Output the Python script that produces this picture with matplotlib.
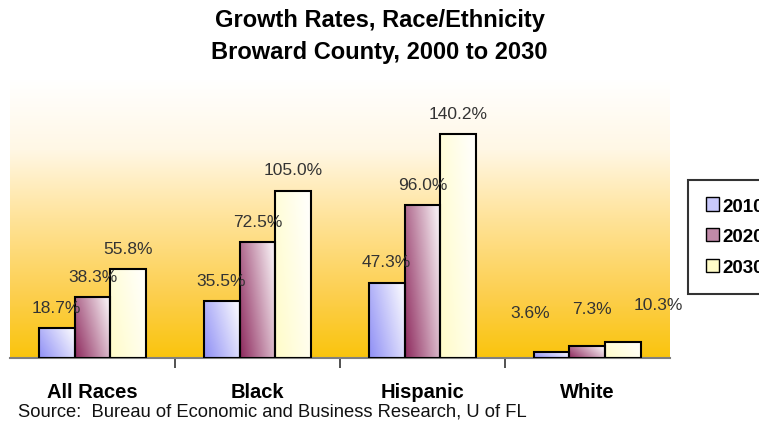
import matplotlib.pyplot as plt
import numpy as np
from matplotlib.colors import LinearSegmentedColormap, to_rgb
from matplotlib.patches import Patch

plt.rcParams['font.family'] = ['Liberation Sans', 'DejaVu Sans']

groups = ['All Races', 'Black', 'Hispanic', 'White']
years = ['2010', '2020', '2030']
rates = {
    '2010': [18.7, 35.5, 47.3, 3.6],
    '2020': [38.3, 72.5, 96.0, 7.3],
    '2030': [55.8, 105.0, 140.2, 10.3],
}
# extra lift for the value labels in each group
label_lift = [13, 13, 13, 23.5]
# White labels are nudged sideways so they don't collide
label_shift = {'2010': [0, 0, 0, -0.13], '2020': [0, 0, 0, 0.03], '2030': [0, 0, 0, 0.21]}
label_lift_w = {'2010': 1.7, '2020': 0, '2030': 0}

base_colors = {'2010': '#8f8ff5', '2020': '#8e2a5e', '2030': '#fffcc8'}

fig = plt.figure(figsize=(7.59, 4.27), dpi=100)
ax = fig.add_axes([0.0132, 0.1593, 0.8695, 0.6533])
ax.set_xlim(-0.5, 3.5)
ax.set_ylim(0, 175)

# white-to-gold backdrop
bg = LinearSegmentedColormap.from_list('bg', [
    (0.0, (0.98, 0.77, 0.05)),
    (0.22, (0.99, 0.81, 0.30)),
    (0.5, (1.0, 0.89, 0.60)),
    (0.75, (1.0, 0.97, 0.9)),
    (1.0, (1.0, 1.0, 1.0)),
])
grad = np.linspace(0, 1, 256).reshape(-1, 1)
ax.imshow(grad, cmap=bg, origin='lower', aspect='auto',
          extent=(-0.5, 3.5, 0, 175), zorder=0)

width = 0.218
x = np.arange(len(groups))
offsets = [-width, 0, width]

for yr, off in zip(years, offsets):
    vals = rates[yr]
    c = np.array(to_rgb(base_colors[yr]))
    gx, gy = np.meshgrid(np.linspace(0, 1, 40), np.linspace(0, 1, 80))
    t = np.clip(0.75 * gx + 0.35 * (1 - gy), 0, 1) * 0.9
    img = c[None, None, :] * (1 - t[..., None]) + t[..., None]
    for xi, v in zip(x, vals):
        x0 = xi + off - width / 2
        ax.imshow(img, origin='upper', aspect='auto',
                  extent=(x0, x0 + width, 0, v), zorder=2)
    ax.bar(x + off, vals, width, facecolor='none', edgecolor='black',
           linewidth=1.5, zorder=3)
    for i, (xi, v, lift) in enumerate(zip(x, vals, label_lift)):
        if i == 3:
            lift += label_lift_w[yr]
        ax.text(xi + off + label_shift[yr][i], v + lift, f'{v:.1f}%',
                ha='center', va='center', fontsize=12.5, color='#333333',
                zorder=4, clip_on=False)

ax.set_xlim(-0.5, 3.5)
ax.set_ylim(0, 175)

for s in ['top', 'right', 'left']:
    ax.spines[s].set_visible(False)
ax.spines['bottom'].set_color('#7f7f7f')
ax.spines['bottom'].set_linewidth(1.5)
ax.set_yticks([])
ax.set_xticks(x, groups, fontsize=14.5, fontweight='bold')
ax.tick_params(axis='x', which='major', length=0, pad=17)
ax.set_xticks([0.5, 1.5, 2.5], minor=True)
ax.tick_params(axis='x', which='minor', length=7, width=1.2, color='#333333')

fig.text(0.5, 0.951, 'Growth Rates, Race/Ethnicity', ha='center', va='center',
         fontsize=17, fontweight='bold')
fig.text(0.5, 0.876, 'Broward County, 2000 to 2030', ha='center', va='center',
         fontsize=17, fontweight='bold')
fig.text(0.024, 0.035, 'Source:  Bureau of Economic and Business Research, U of FL',
         ha='left', va='center', fontsize=13.2, color='#111111')

handles = [Patch(facecolor=fc, edgecolor='black', linewidth=1)
           for fc in ['#c8c8fa', '#c08aa8', '#fffcc8']]
leg = fig.legend(handles, years, loc='upper left', bbox_to_anchor=(0.9065, 0.577),
                 prop={'size': 13.5, 'weight': 'bold'}, frameon=True, fancybox=False,
                 handlelength=0.7, handleheight=0.7, handletextpad=0.2,
                 labelspacing=0.72, borderpad=0.95, borderaxespad=0)
leg.get_frame().set_edgecolor('black')
leg.get_frame().set_linewidth(1.5)

fig.savefig('out.png', dpi=100)
